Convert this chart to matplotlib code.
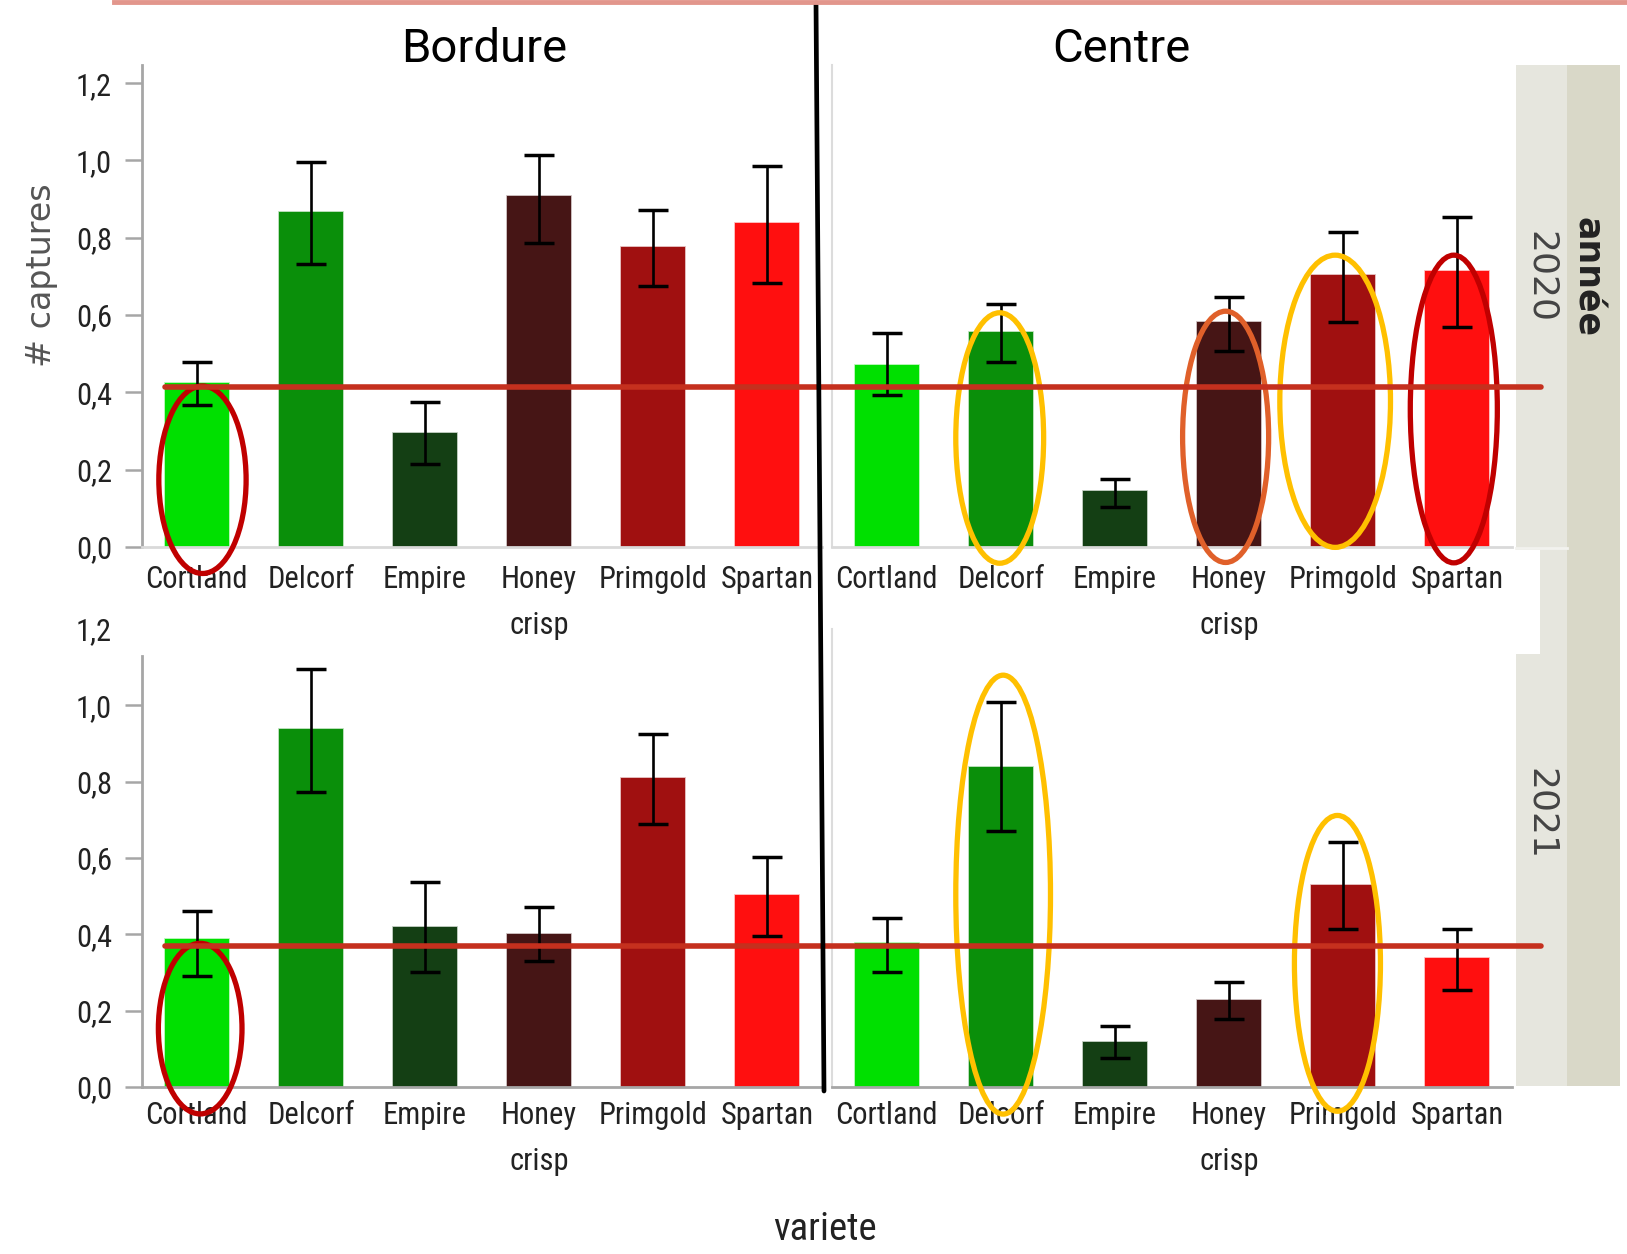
import matplotlib
matplotlib.use('Agg')
import matplotlib.pyplot as plt
import matplotlib.colors as mcolors
from matplotlib.patches import Ellipse, Rectangle
from matplotlib.lines import Line2D

W, H = 1627, 1254

varietes = ['Cortland', 'Delcorf', 'Empire', 'Honey\ncrisp', 'Primgold', 'Spartan']
couleurs = ['#00e000', '#0a8f0a', '#143f14', '#461515', '#a01010', '#ff0f0f']

# moyenne de captures et bornes de l'intervalle
bordure_2020 = [0.424, 0.866, 0.294, 0.909, 0.777, 0.839]
bordure_2020_bas = [0.367, 0.731, 0.216, 0.787, 0.675, 0.684]
bordure_2020_haut = [0.478, 0.995, 0.375, 1.013, 0.873, 0.985]

centre_2020 = [0.472, 0.557, 0.144, 0.582, 0.704, 0.714]
centre_2020_bas = [0.394, 0.478, 0.104, 0.506, 0.582, 0.570]
centre_2020_haut = [0.554, 0.629, 0.177, 0.647, 0.816, 0.854]

bordure_2021 = [0.387, 0.938, 0.418, 0.400, 0.810, 0.504]
bordure_2021_bas = [0.292, 0.773, 0.302, 0.330, 0.688, 0.396]
bordure_2021_haut = [0.462, 1.094, 0.538, 0.471, 0.925, 0.603]

centre_2021 = [0.376, 0.838, 0.118, 0.227, 0.529, 0.338]
centre_2021_bas = [0.302, 0.670, 0.075, 0.179, 0.414, 0.254]
centre_2021_haut = [0.442, 1.010, 0.160, 0.274, 0.642, 0.415]

moyenne_2020 = 0.415
moyenne_2021 = 0.37

y_ticks = [0.0, 0.2, 0.4, 0.6, 0.8, 1.0, 1.2]

ROUGE = '#c00000'
JAUNE = '#ffc000'
ORANGE = '#e0602a'

# ellipses dessinées à la main : (x, y, largeur, hauteur, couleur)
ellipses_b20 = [(0.05, 0.174, 0.765, 0.485, ROUGE)]
ellipses_c20 = [(0.99, 0.282, 0.77, 0.648, JAUNE),
                (2.97, 0.285, 0.754, 0.65, ORANGE),
                (3.93, 0.377, 0.97, 0.756, JAUNE),
                (4.97, 0.357, 0.763, 0.796, ROUGE)]
ellipses_b21 = [(0.03, 0.153, 0.733, 0.447, ROUGE)]
ellipses_c21 = [(1.02, 0.504, 0.83, 1.15, JAUNE),
                (3.95, 0.324, 0.754, 0.775, JAUNE)]

POLICE_TICKS = ['Roboto Condensed', 'DejaVu Sans']


def boite(x0, y0, x1, y1):
    return [x0 / W, 1 - y1 / H, (x1 - x0) / W, (y1 - y0) / H]


def fig_xy(ax, x, y):
    return fig.transFigure.inverted().transform(ax.transData.transform((x, y)))


fig = plt.figure(figsize=(W / 100, H / 100), dpi=100)

ax_b20 = fig.add_axes(boite(142, 65, 822, 547))
ax_c20 = fig.add_axes(boite(832, 65, 1512, 547))
ax_b21 = fig.add_axes(boite(142, 629, 822, 1087))
ax_c21 = fig.add_axes(boite(832, 629, 1512, 1087))

panneaux = [
    (ax_b20, bordure_2020, bordure_2020_bas, bordure_2020_haut, ellipses_b20, 1.247, True),
    (ax_c20, centre_2020, centre_2020_bas, centre_2020_haut, ellipses_c20, 1.247, True),
    (ax_b21, bordure_2021, bordure_2021_bas, bordure_2021_haut, ellipses_b21, 1.2, False),
    (ax_c21, centre_2021, centre_2021_bas, centre_2021_haut, ellipses_c21, 1.2, False),
]

x = list(range(len(varietes)))
for i, (ax, vals, bas, haut, ells, ymax, haut_panneau) in enumerate(panneaux):
    ax.set_facecolor('none')
    bords = [mcolors.to_rgba(c, 0.35) for c in couleurs]
    ax.bar(x, vals, width=0.56, color=couleurs, edgecolor=bords, linewidth=1.2, zorder=2)
    err = [[v - b for v, b in zip(vals, bas)], [h - v for v, h in zip(vals, haut)]]
    ax.errorbar(x, vals, yerr=err, fmt='none', ecolor='black', elinewidth=1.9,
                capsize=11, capthick=2.5, zorder=3)
    for (ex, ey, ew, eh, ec) in ells:
        ax.add_patch(Ellipse((ex, ey), ew, eh, fill=False, edgecolor=ec,
                             linewidth=3.8, clip_on=False, zorder=5))

    ax.set_xlim(-0.48, 5.48)
    ax.set_ylim(0, ymax)
    ax.set_xticks(x)
    ax.set_xticklabels(varietes, family=POLICE_TICKS, fontsize=22,
                       color='#222222', linespacing=1.75)
    ax.tick_params(axis='x', length=0, pad=13 if haut_panneau else 10)
    ax.spines['top'].set_visible(False)
    ax.spines['right'].set_visible(False)
    ax.spines['bottom'].set_color('#d9d9d9' if haut_panneau else '#a6a6a6')
    ax.spines['bottom'].set_linewidth(2)

    if i % 2 == 0:
        ax.set_yticks(y_ticks)
        ax.set_yticklabels([f'{t:.1f}'.replace('.', ',') for t in y_ticks],
                           family=POLICE_TICKS, fontsize=22, color='#222222')
        ax.tick_params(axis='y', length=12.6, width=1.8, color='#a6a6a6', pad=9)
        ax.spines['left'].set_color('#a6a6a6')
        ax.spines['left'].set_linewidth(2)
    else:
        ax.tick_params(axis='y', left=False, labelleft=False)
        ax.spines['left'].set_color('#dcdcdc')
        ax.spines['left'].set_linewidth(1.5)

# le panneau du bas est coupé en haut par les étiquettes du panneau 2020
ax_b21.spines['left'].set_bounds(0, 1.13)
ax_b21.yaxis.get_major_ticks()[-1].tick1line.set_visible(False)

# bandeaux de facette à droite
fig.add_artist(Rectangle((1516 / W, 1 - 1086 / H), 51 / W, 1021 / H,
                         transform=fig.transFigure, facecolor='#e6e6de',
                         edgecolor='none', zorder=0))
fig.add_artist(Rectangle((1567 / W, 1 - 1086 / H), 53 / W, 1021 / H,
                         transform=fig.transFigure, facecolor='#d9d8c8',
                         edgecolor='none', zorder=0))
fig.add_artist(Rectangle((1516 / W, 1 - 654 / H), 24 / W, 104 / H,
                         transform=fig.transFigure, facecolor='white',
                         edgecolor='none', zorder=0.5))
fig.add_artist(Line2D([1516 / W, 1567 / W], [1 - 548 / H, 1 - 548 / H],
                      transform=fig.transFigure, color='#f2f2ee', linewidth=2))

fig.text(1541 / W, 1 - 277 / H, '2020', rotation=-90, ha='center', va='center',
         fontsize=26, color='#444444')
fig.text(1541 / W, 1 - 814 / H, '2021', rotation=-90, ha='center', va='center',
         fontsize=26, color='#444444')
fig.text(1587 / W, 1 - 277 / H, 'année', rotation=-90, ha='center', va='center',
         fontsize=25, fontweight='bold', color='#222222')

# titres des colonnes
fig.text(484 / W, 1 - 49 / H, 'Bordure', ha='center', va='center',
         fontsize=34, family='Roboto', color='black')
fig.text(1121 / W, 1 - 49 / H, 'Centre', ha='center', va='center',
         fontsize=34, family='Roboto', color='black')

fig.text(42 / W, 1 - 275 / H, '# captures', rotation=90, ha='center', va='center',
         fontsize=24, color='#555555')
fig.text(825 / W, 1 - 1230 / H, 'variete', ha='center', va='center',
         fontsize=28, family=POLICE_TICKS, color='#222222')

# lignes de moyenne tracées par-dessus
for ax_g, ax_d, moy in [(ax_b20, ax_c20, moyenne_2020), (ax_b21, ax_c21, moyenne_2021)]:
    p0 = fig_xy(ax_g, -0.28, moy)
    p1 = fig_xy(ax_d, 5.73, moy)
    fig.add_artist(Line2D([p0[0], p1[0]], [p0[1], p1[1]], transform=fig.transFigure,
                          color='#c5301e', linewidth=4, solid_capstyle='round',
                          zorder=4))

# séparation noire entre bordure et centre, trait rose en haut
fig.add_artist(Line2D([816 / W, 824 / W], [1 - 3 / H, 1 - 1091 / H],
                      transform=fig.transFigure, color='black', linewidth=3.4,
                      solid_capstyle='round', zorder=6))
fig.add_artist(Line2D([114 / W, 1.0], [1 - 2 / H, 1 - 2 / H],
                      transform=fig.transFigure, color='#e2968c', linewidth=3.5,
                      zorder=6))

fig.savefig('out.png', dpi=100)
